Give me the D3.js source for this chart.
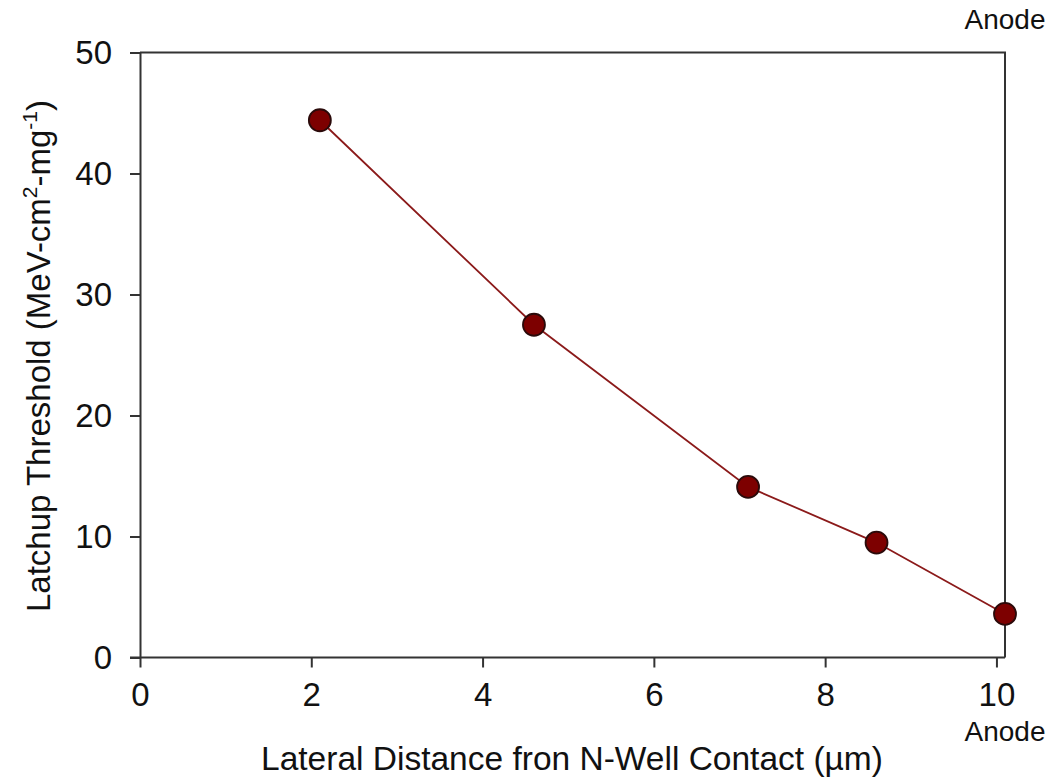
<!DOCTYPE html>
<html>
<head>
<meta charset="utf-8">
<script src="https://cdn.jsdelivr.net/npm/d3@7"></script>
<style>
  body { margin: 0; background: #fff; }
  svg text { font-family: "Liberation Sans", Arial, sans-serif; fill: #111; }
</style>
</head>
<body>
<div id="chart"></div>
<script>
// lateral distance (um) and latchup threshold (MeV-cm2/mg)
const distance = [2.1, 4.6, 7.1, 8.6, 10.1];
const threshold = [44.4, 27.5, 14.1, 9.5, 3.6];
const xTicks = [0, 2, 4, 6, 8, 10];
const yTicks = [0, 10, 20, 30, 40, 50];

const W = 1050, H = 777;
const mLeft = 140, mRight = 1005, mTop = 52.5, mBottom = 657.5;

const svg = d3.select('#chart').append('svg')
  .attr('width', W)
  .attr('height', H);

const x = d3.scaleLinear().domain([0, 10.1]).range([mLeft, mRight]);
const y = d3.scaleLinear().domain([0, 50]).range([mBottom, mTop]);

// frame (top + right sides)
svg.append('path')
  .attr('d', `M${mLeft},${mTop}H${mRight}V${mBottom}`)
  .attr('fill', 'none')
  .attr('stroke', '#333')
  .attr('stroke-width', 2);

const xAxis = svg.append('g')
  .attr('transform', `translate(0,${mBottom})`)
  .call(d3.axisBottom(x).tickValues(xTicks).tickSize(10).tickPadding(15).tickSizeOuter(0));

const yAxis = svg.append('g')
  .attr('transform', `translate(${mLeft},0)`)
  .call(d3.axisLeft(y).tickValues(yTicks).tickSize(10).tickPadding(18).tickSizeOuter(0));

[xAxis, yAxis].forEach(g => {
  g.select('.domain').attr('stroke', '#333').attr('stroke-width', 2);
  g.selectAll('.tick line').attr('stroke', '#333').attr('stroke-width', 2);
  g.selectAll('.tick text').attr('font-size', 33).attr('fill', '#111')
    .style('font-family', '"Liberation Sans", Arial, sans-serif');
});
// extend x domain line left to the outer tick of y=0
xAxis.select('.domain').attr('d', `M${mLeft - 10},0H${mRight}`);

// series line
const pts = distance.map((d, i) => [d, threshold[i]]);
svg.append('path')
  .datum(pts)
  .attr('fill', 'none')
  .attr('stroke', '#8b1a1a')
  .attr('stroke-width', 1.8)
  .attr('d', d3.line().x(d => x(d[0])).y(d => y(d[1])));

svg.selectAll('.pt').data(pts).enter().append('circle')
  .attr('class', 'pt')
  .attr('cx', d => x(d[0]))
  .attr('cy', d => y(d[1]))
  .attr('r', 11)
  .attr('fill', '#7d0000')
  .attr('stroke', '#2a0a0a')
  .attr('stroke-width', 1.8);

// axis titles
svg.append('text')
  .attr('x', 572)
  .attr('y', 770)
  .attr('text-anchor', 'middle')
  .attr('font-size', 33.5)
  .text('Lateral Distance fron N-Well Contact (µm)');

const ylab = svg.append('text')
  .attr('transform', 'translate(50,356) rotate(-90)')
  .attr('text-anchor', 'middle')
  .attr('font-size', 33);
ylab.append('tspan').text('Latchup Threshold (MeV-cm');
ylab.append('tspan').attr('font-size', 21).attr('dy', -13).text('2');
ylab.append('tspan').attr('dy', 13).text('-mg');
ylab.append('tspan').attr('font-size', 21).attr('dy', -13).text('-1');
ylab.append('tspan').attr('dy', 13).text(')');

// anode markers
svg.append('text')
  .attr('x', 1005).attr('y', 29)
  .attr('text-anchor', 'middle')
  .attr('font-size', 28)
  .text('Anode');
svg.append('text')
  .attr('x', 1005).attr('y', 741)
  .attr('text-anchor', 'middle')
  .attr('font-size', 28)
  .text('Anode');
</script>
</body>
</html>
